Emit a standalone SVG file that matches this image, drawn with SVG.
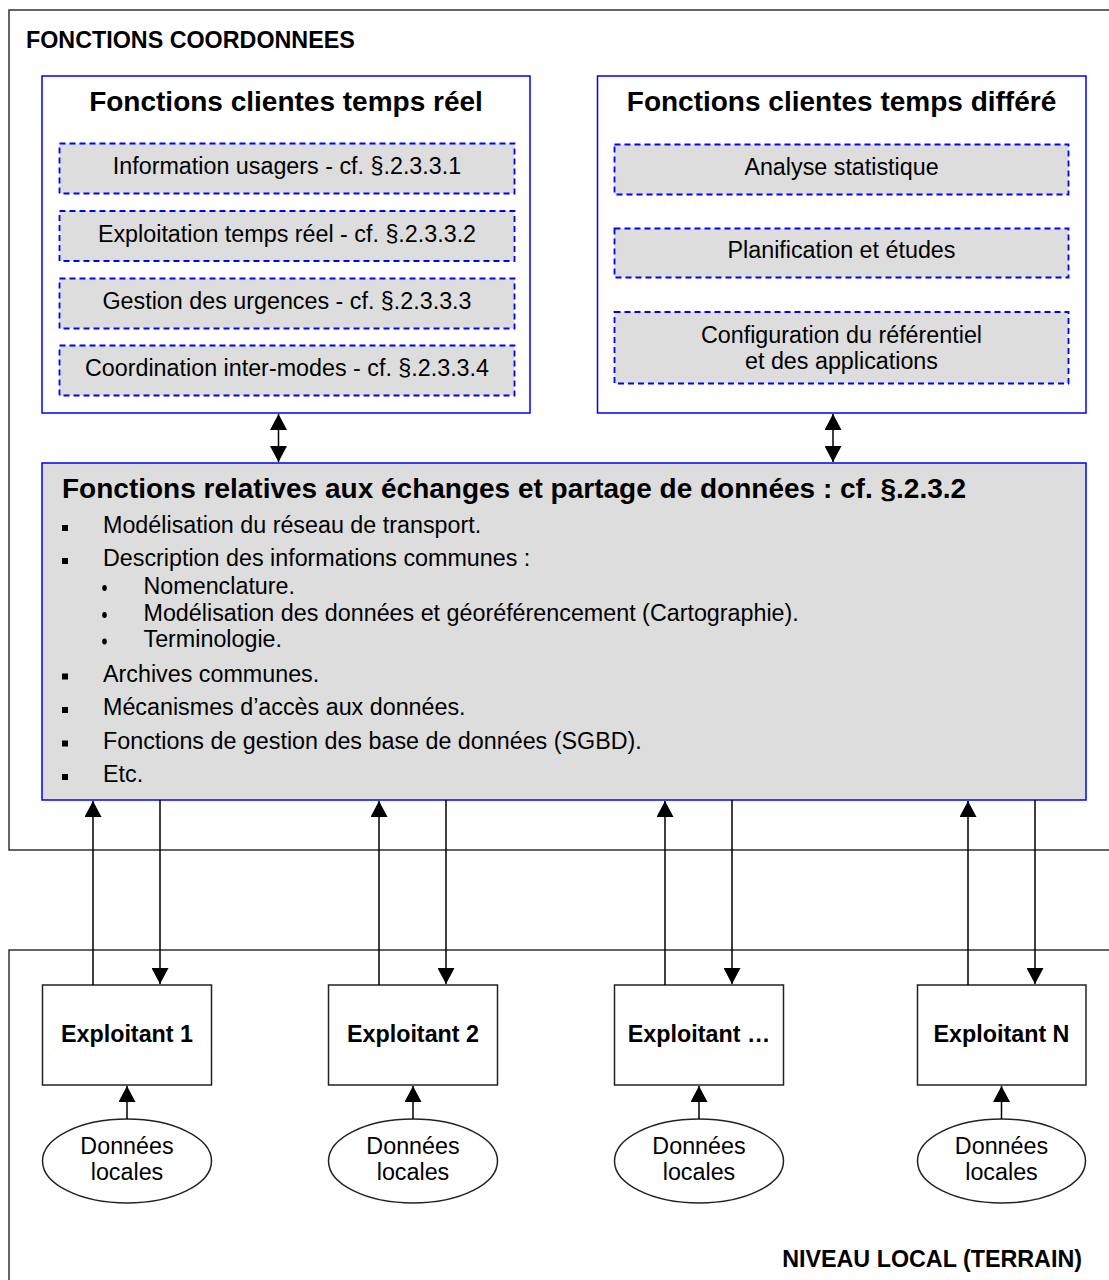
<svg xmlns="http://www.w3.org/2000/svg" width="1109" height="1280" viewBox="0 0 1109 1280">
  <style>
    text { font-family: "Liberation Sans", Arial, sans-serif; fill: #000; }
    .reg { font-size: 23.3px; }
    .bold { font-size: 23.3px; font-weight: bold; }
    .head { font-size: 28px; font-weight: bold; }
    .mid { text-anchor: middle; }
    .frame { fill: none; stroke: #333; stroke-width: 1.5; }
    .client { fill: #fff; stroke: #0000ff; stroke-width: 1.5; }
    .sub { fill: #dddddd; stroke: #0000ff; stroke-width: 1.8; stroke-dasharray: 6 4; }
    .shared { fill: #dddddd; stroke: #0000ff; stroke-width: 1.5; }
    .box { fill: #fff; stroke: #222; stroke-width: 1.5; }
    .link { fill: none; stroke: #000; stroke-width: 1.5; }
  </style>
  <defs>
    <marker id="arrow" viewBox="0 0 16 17" refX="16" refY="8.5" markerWidth="16" markerHeight="17" markerUnits="userSpaceOnUse" orient="auto-start-reverse">
      <path d="M0,0 L16,8.5 L0,17 Z" fill="#000"/>
    </marker>
  </defs>
  <rect width="1109" height="1280" fill="#fff"/>

  <!-- Level frames -->
  <g id="frame-coordonnees">
    <path class="frame" d="M1109,10 H9 V850 H1109"/>
    <text class="bold" x="26" y="48">FONCTIONS COORDONNEES</text>
  </g>
  <g id="frame-local">
    <path class="frame" d="M1109,950 H9 V1280"/>
    <text class="bold" x="1082" y="1267" text-anchor="end">NIVEAU LOCAL (TERRAIN)</text>
  </g>

  <!-- Real-time client functions -->
  <g id="clients-temps-reel">
    <rect class="client" x="42" y="76" width="488" height="337"/>
    <text class="head mid" x="286" y="111">Fonctions clientes temps réel</text>
    <g id="info-usagers">
      <rect class="sub" x="59.5" y="143.5" width="455" height="50"/>
      <text class="reg mid" x="287" y="174">Information usagers - cf. §.2.3.3.1</text>
    </g>
    <g id="exploitation-tr">
      <rect class="sub" x="59.5" y="211" width="455" height="50"/>
      <text class="reg mid" x="287" y="241.5">Exploitation temps réel - cf. §.2.3.3.2</text>
    </g>
    <g id="gestion-urgences">
      <rect class="sub" x="59.5" y="278.5" width="455" height="50"/>
      <text class="reg mid" x="287" y="309">Gestion des urgences - cf. §.2.3.3.3</text>
    </g>
    <g id="coordination-intermodes">
      <rect class="sub" x="59.5" y="345.5" width="455" height="50"/>
      <text class="reg mid" x="287" y="376">Coordination inter-modes - cf. §.2.3.3.4</text>
    </g>
  </g>

  <!-- Deferred client functions -->
  <g id="clients-temps-differe">
    <rect class="client" x="597.5" y="76" width="488.5" height="337"/>
    <text class="head mid" x="841.5" y="111">Fonctions clientes temps différé</text>
    <g id="analyse-statistique">
      <rect class="sub" x="614.5" y="144.5" width="454" height="50"/>
      <text class="reg mid" x="841.5" y="175">Analyse statistique</text>
    </g>
    <g id="planification">
      <rect class="sub" x="614.5" y="228.5" width="454" height="49"/>
      <text class="reg mid" x="841.5" y="258">Planification et études</text>
    </g>
    <g id="configuration">
      <rect class="sub" x="614.5" y="312" width="454" height="71.5"/>
      <text class="reg mid" x="841.5" y="343">Configuration du référentiel</text>
      <text class="reg mid" x="841.5" y="369">et des applications</text>
    </g>
  </g>

  <!-- Shared data exchange functions -->
  <g id="echanges-partage">
    <rect class="shared" x="42" y="463" width="1044" height="337"/>
    <text class="head" x="62" y="498">Fonctions relatives aux échanges et partage de données : cf. §.2.3.2</text>
    <g fill="#000">
      <rect x="62" y="525" width="6" height="6"/>
      <rect x="62" y="558" width="6" height="6"/>
      <rect x="62" y="673.5" width="6" height="6"/>
      <rect x="62" y="707" width="6" height="6"/>
      <rect x="62" y="740.5" width="6" height="6"/>
      <rect x="62" y="774" width="6" height="6"/>
      <ellipse cx="104.5" cy="588" rx="2.3" ry="3"/>
      <ellipse cx="104.5" cy="615" rx="2.3" ry="3"/>
      <ellipse cx="104.5" cy="641.5" rx="2.3" ry="3"/>
    </g>
    <text class="reg" x="103" y="533">Modélisation du réseau de transport.</text>
    <text class="reg" x="103" y="566">Description des informations communes :</text>
    <text class="reg" x="143.5" y="593.5">Nomenclature.</text>
    <text class="reg" x="143.5" y="620.5">Modélisation des données et géoréférencement (Cartographie).</text>
    <text class="reg" x="143.5" y="647">Terminologie.</text>
    <text class="reg" x="103" y="681.5">Archives communes.</text>
    <text class="reg" x="103" y="715">Mécanismes d’accès aux données.</text>
    <text class="reg" x="103" y="748.5">Fonctions de gestion des base de données (SGBD).</text>
    <text class="reg" x="103" y="782">Etc.</text>
  </g>

  <!-- Operators -->
  <g id="exploitant-1">
    <rect class="box" x="42.5" y="985" width="169" height="100"/>
    <text class="bold mid" x="127" y="1042">Exploitant 1</text>
  </g>
  <g id="exploitant-2">
    <rect class="box" x="328.5" y="985" width="169" height="100"/>
    <text class="bold mid" x="413" y="1042">Exploitant 2</text>
  </g>
  <g id="exploitant-n1">
    <rect class="box" x="614.5" y="985" width="169" height="100"/>
    <text class="bold mid" x="699" y="1042">Exploitant …</text>
  </g>
  <g id="exploitant-n">
    <rect class="box" x="917.5" y="985" width="168.5" height="100"/>
    <text class="bold mid" x="1001.5" y="1042">Exploitant N</text>
  </g>

  <!-- Local data stores -->
  <g id="donnees-1">
    <ellipse class="box" cx="127" cy="1161" rx="84.5" ry="42"/>
    <text class="reg mid" x="127" y="1154">Données</text>
    <text class="reg mid" x="127" y="1180">locales</text>
  </g>
  <g id="donnees-2">
    <ellipse class="box" cx="413" cy="1161" rx="84.5" ry="42"/>
    <text class="reg mid" x="413" y="1154">Données</text>
    <text class="reg mid" x="413" y="1180">locales</text>
  </g>
  <g id="donnees-3">
    <ellipse class="box" cx="699" cy="1161" rx="84.5" ry="42"/>
    <text class="reg mid" x="699" y="1154">Données</text>
    <text class="reg mid" x="699" y="1180">locales</text>
  </g>
  <g id="donnees-n">
    <ellipse class="box" cx="1001.5" cy="1161" rx="84" ry="42"/>
    <text class="reg mid" x="1001.5" y="1154">Données</text>
    <text class="reg mid" x="1001.5" y="1180">locales</text>
  </g>

  <!-- Connectors -->
  <g id="connectors">
    <line class="link" x1="278.5" y1="414" x2="278.5" y2="462" marker-start="url(#arrow)" marker-end="url(#arrow)"/>
    <line class="link" x1="833" y1="414" x2="833" y2="462" marker-start="url(#arrow)" marker-end="url(#arrow)"/>

    <line class="link" x1="93" y1="985" x2="93" y2="801" marker-end="url(#arrow)"/>
    <line class="link" x1="160" y1="800" x2="160" y2="984" marker-end="url(#arrow)"/>
    <line class="link" x1="379" y1="985" x2="379" y2="801" marker-end="url(#arrow)"/>
    <line class="link" x1="446" y1="800" x2="446" y2="984" marker-end="url(#arrow)"/>
    <line class="link" x1="665" y1="985" x2="665" y2="801" marker-end="url(#arrow)"/>
    <line class="link" x1="732" y1="800" x2="732" y2="984" marker-end="url(#arrow)"/>
    <line class="link" x1="968" y1="985" x2="968" y2="801" marker-end="url(#arrow)"/>
    <line class="link" x1="1035" y1="800" x2="1035" y2="984" marker-end="url(#arrow)"/>

    <line class="link" x1="127" y1="1119" x2="127" y2="1086" marker-end="url(#arrow)"/>
    <line class="link" x1="413" y1="1119" x2="413" y2="1086" marker-end="url(#arrow)"/>
    <line class="link" x1="699" y1="1119" x2="699" y2="1086" marker-end="url(#arrow)"/>
    <line class="link" x1="1001.5" y1="1119" x2="1001.5" y2="1086" marker-end="url(#arrow)"/>
  </g>
</svg>
